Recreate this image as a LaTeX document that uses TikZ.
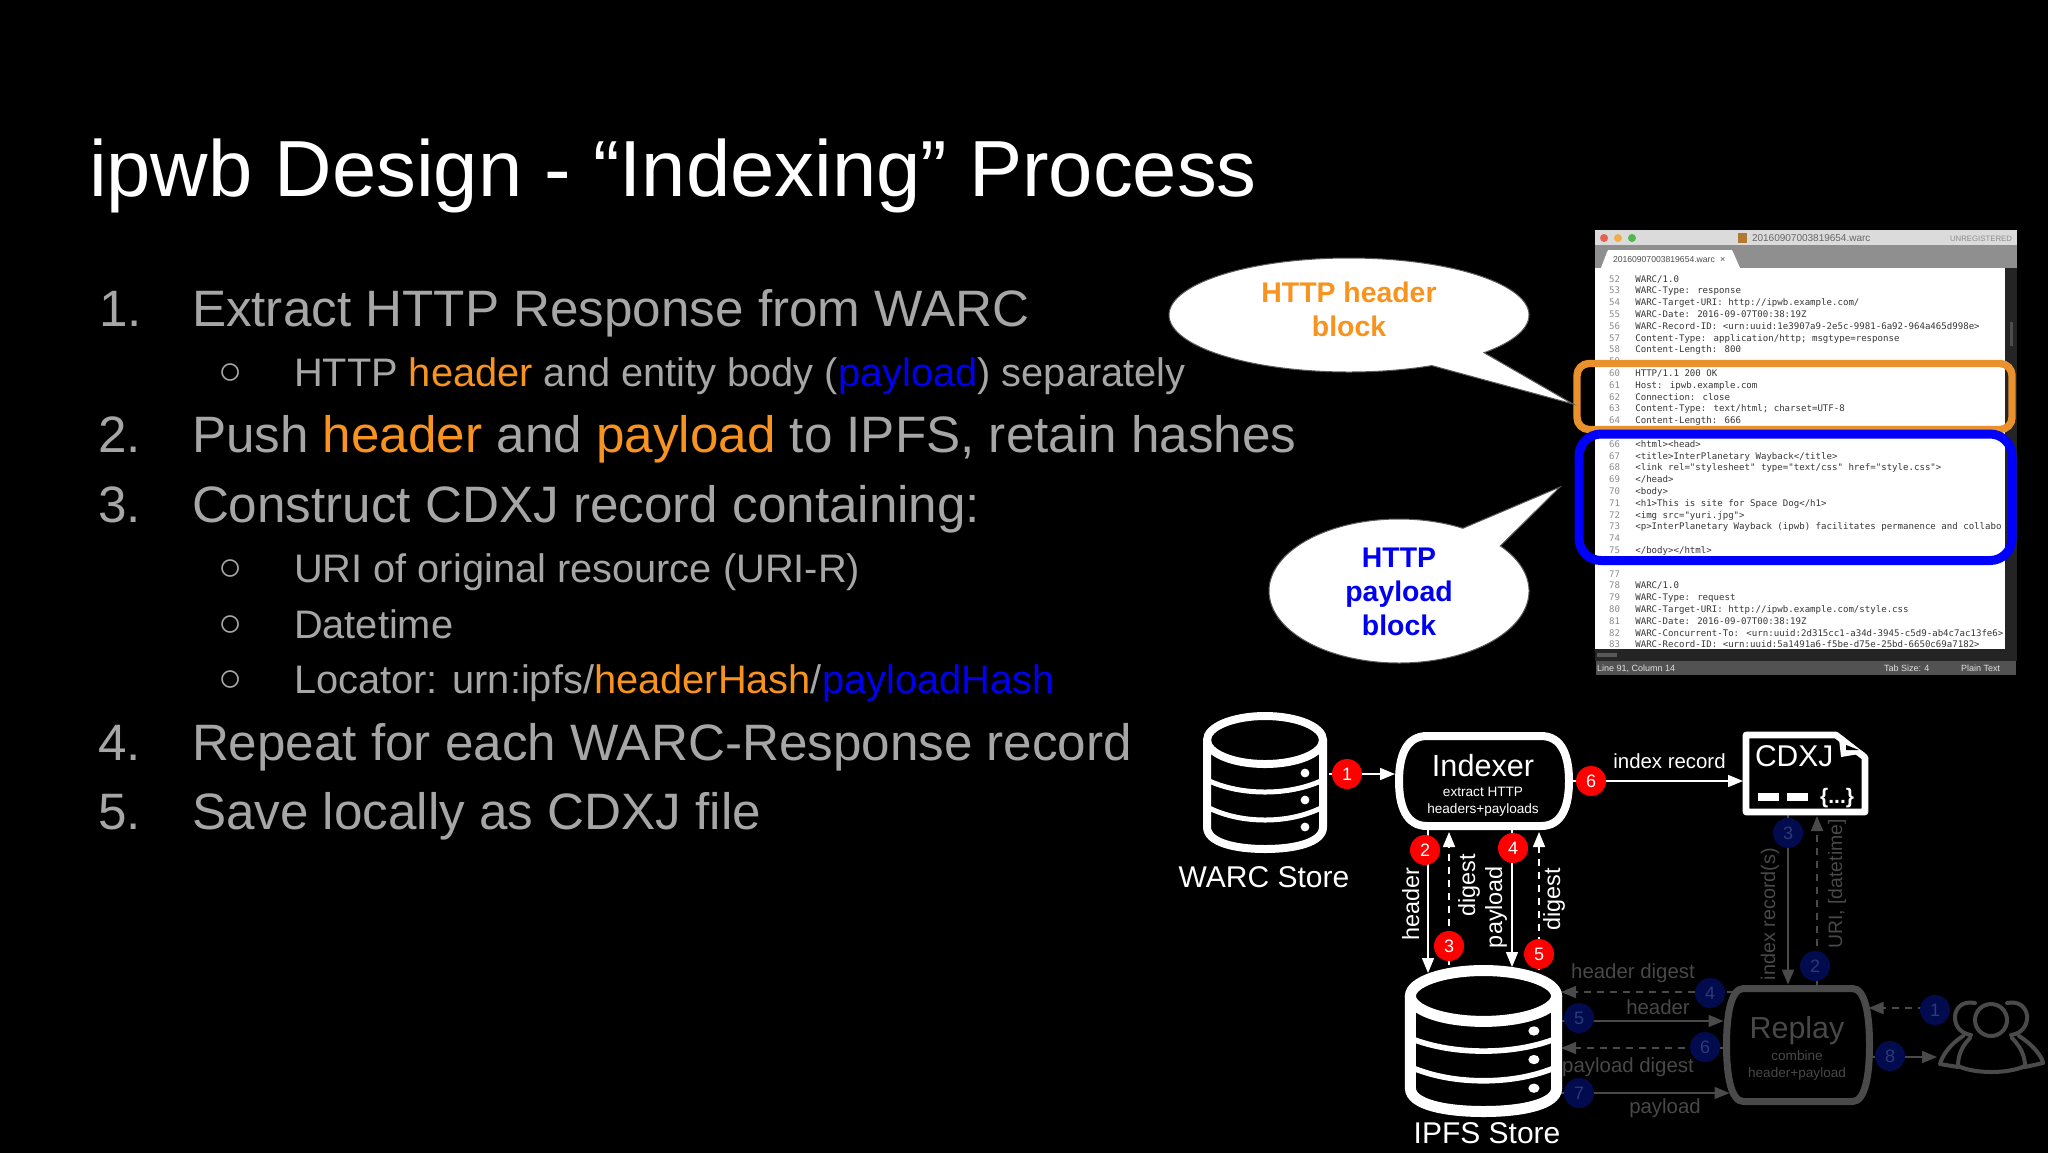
\documentclass[tikz,border=0pt]{standalone}
\usepackage{fontspec}
\setmainfont{Liberation Sans}
\newfontfamily\codefont{DejaVu Sans Mono}
\usetikzlibrary{calc,arrows.meta}

\definecolor{itemgray}{HTML}{A6A6A6}
\definecolor{hlorange}{HTML}{F7931E}
\definecolor{hlblue}{HTML}{0000F0}
\definecolor{boxorange}{HTML}{E8912D}
\definecolor{dimgray}{HTML}{4A4A4A}
\definecolor{dimtext}{HTML}{484848}
\definecolor{navy}{HTML}{020B4E}
\definecolor{navytext}{HTML}{2B3A78}
\definecolor{winred}{HTML}{E8604F}
\definecolor{winyellow}{HTML}{F0AE48}
\definecolor{wingreen}{HTML}{4FB850}
\definecolor{winfile}{HTML}{B07A30}

% fonts, sizes in pt (1 px of the slide is 0.5pt)
\newcommand{\fsz}[1]{\fontsize{#1}{#1}\selectfont}

\tikzset{
  txt/.style={inner sep=0pt,outer sep=0pt},
  title/.style={txt,anchor=base west,text=white,font=\fsz{39.8}},
  item/.style={txt,anchor=base west,text=itemgray,font=\fsz{25.6}},
  sub/.style={txt,anchor=base west,text=itemgray,font=\fsz{19.9}},
  bullet/.style={txt,anchor=center,text=itemgray,font=\fsz{20}},
  codenum/.style={txt,anchor=base east,text=black!45,font=\codefont\fsz{4.54}},
  codetxt/.style={txt,anchor=base west,text=black!78,font=\codefont\fsz{4.54}},
  chrome/.style={txt,anchor=base west,font=\fsz{4.5}},
  bubble/.style={fill=white,draw=black!65,line width=.5pt},
  bubbletxt/.style={txt,align=center,font=\bfseries\fontsize{14.2}{17}\selectfont},
  wlabel/.style={txt,anchor=base,text=white,font=\fsz{#1}},
  dlabel/.style={txt,anchor=base,text=dimtext,font=\fsz{#1}},
  redbadge/.style={circle,fill=red,text=white,inner sep=0pt,minimum size=15pt,font=\fsz{9}},
  navybadge/.style={circle,fill=navy,text=navytext,inner sep=0pt,minimum size=15pt,font=\fsz{9}},
  wire/.style={line width=.8pt,white,-{Triangle[length=7.5pt,width=6pt]}},
  dwire/.style={line width=.8pt,dimgray,-{Triangle[length=7.5pt,width=6pt]}},
  dashes/.style={dash pattern=on 3.5pt off 3pt},
  pics/store/.style 2 args={code={
    \draw[white,line width=#1] (0,-42.5) ellipse [x radius=58,y radius=24];
    \draw[white,line width=#1,line cap=round] (-58,-42.5) -- (-58,44.5)
      .. controls (-58,60) and (-30,66.5) .. (0,66.5)
      .. controls (30,66.5) and (58,60) .. (58,44.5) -- (58,-42.5);
    \foreach \yy/\sag in {-2.5/12,24.5/13}
      \draw[white,line width=#2] (-58,\yy) .. controls (-40,\yy+.7*\sag) and (-20,\yy+\sag) .. (0,\yy+\sag)
        .. controls (20,\yy+\sag) and (40,\yy+.7*\sag) .. (58,\yy);
    \foreach \yy in {-9.5,17.5,44.5}
      \fill[white] (40,\yy) ellipse [x radius=4.4,y radius=4.4];
  }}
}

% barrel outline round a box node: node, flat inset, side pull, style
\newcommand{\barrel}[4]{%
  \draw[#4] ($(#1.north west)+(#2,0)$) -- ($(#1.north east)+(-#2,0)$)
    .. controls ($(#1.north east)+({-.25*#2},0)$) and ($(#1.east)+(0,-#3)$) .. (#1.east)
    .. controls ($(#1.east)+(0,#3)$) and ($(#1.south east)+({-.25*#2},0)$) .. ($(#1.south east)+(-#2,0)$)
    -- ($(#1.south west)+(#2,0)$)
    .. controls ($(#1.south west)+({.25*#2},0)$) and ($(#1.west)+(0,#3)$) .. (#1.west)
    .. controls ($(#1.west)+(0,-#3)$) and ($(#1.north west)+({.25*#2},0)$) .. cycle;}

% one numbered line of the editor window
\newcommand{\wline}[2]{%
  \node[codenum] (num#1) at (1620,{282+11.8*(#1-52)}) {#1};
  \node[codetxt] (txt#1) at (1635.3,{282+11.8*(#1-52)}) {#2};}

\begin{document}
\begin{tikzpicture}[x=.5pt,y=-.5pt]
\useasboundingbox (0,0) rectangle (2048,1152);
\fill[black] (-6,-6) rectangle (2054,1158);

% ---- slide text
\node[title] (head) at (89,196) {ipwb Design - “Indexing” Process};

\node[item] (n1) at (99,326) {1.};
\node[item] (t1) at (192,326) {Extract HTTP Response from WARC};
\node[bullet] (b1) at (231,374.5) {○};
\node[sub] (s1) at (294,386) {HTTP \textcolor{hlorange}{header} and entity body (\textcolor{hlblue}{payload}) separately};
\node[item] (n2) at (98,452) {2.};
\node[item] (t2) at (192,452) {Push \textcolor{hlorange}{header} and \textcolor{hlorange}{payload} to IPFS, retain hashes};
\node[item] (n3) at (98,522) {3.};
\node[item] (t3) at (192,522) {Construct CDXJ record containing:};
\node[bullet] (b2) at (231,570.5) {○};
\node[sub] (s2) at (294,582) {URI of original resource (URI-R)};
\node[bullet] (b3) at (231,626.5) {○};
\node[sub] (s3) at (294,638) {Datetime};
\node[bullet] (b4) at (231,681.5) {○};
\node[sub] (s4) at (294,693) {Locator: urn:ipfs/\textcolor{hlorange}{headerHash}/\textcolor{hlblue}{payloadHash}};
\node[item] (n4) at (98,760) {4.};
\node[item] (t4) at (192,760) {Repeat for each WARC-Response record};
\node[item] (n5) at (98,829) {5.};
\node[item] (t5) at (192,829) {Save locally as CDXJ file};

% ---- editor window
\fill[black!14] (1595,230) rectangle (2017,245);
\fill[black!44] (1595,245) rectangle (2017,268);
\fill[white] (1601,268) -- (1607,252) .. controls (1608,250) .. (1610,250) -- (1730,250)
  .. controls (1732,250) .. (1733,252) -- (1740,268) -- cycle;
\fill[black!86] (1595,268) rectangle (2017,661);
\fill[white] (1595,268) rectangle (2005,649);
\fill[black!70] (2010,322) rectangle (2013,346);
\fill[black!65] (1597,653) rectangle (1617,657);
\fill[black!68] (1596,661) rectangle (2016,675);
\fill[winred] (1604,238) circle (4);
\fill[winyellow] (1618,238) circle (4);
\fill[wingreen] (1632,238) circle (4);
\fill[winfile] (1738,233) rectangle (1747,243);
\node[chrome,text=black!60,font=\fsz{5}] (wtitle) at (1752,241) {20160907003819654.warc};
\node[chrome,text=black!45,font=\fsz{3.9}] (wreg) at (1950,241) {UNREGISTERED};
\node[chrome,text=black!70,font=\fsz{4.3}] (wtab) at (1613,262) {20160907003819654.warc};
\node[chrome,text=black!70] (wclose) at (1720,262) {×};
\node[chrome,text=black!12] (wpos) at (1597,671) {Line 91, Column 14};
\node[chrome,text=black!12] (wsize) at (1884,671) {Tab Size: 4};
\node[chrome,text=black!12] (wkind) at (1961,671) {Plain Text};

\begin{scope}
\clip (1595,268) rectangle (2005,649);
\wline{52}{WARC/1.0}
\wline{53}{WARC-Type: response}
\wline{54}{WARC-Target-URI: http://ipwb.example.com/}
\wline{55}{WARC-Date: 2016-09-07T00:38:19Z}
\wline{56}{WARC-Record-ID: <urn:uuid:1e3907a9-2e5c-9981-6a92-964a465d998e>}
\wline{57}{Content-Type: application/http; msgtype=response}
\wline{58}{Content-Length: 800}
\wline{59}{}
\wline{60}{HTTP/1.1 200 OK}
\wline{61}{Host: ipwb.example.com}
\wline{62}{Connection: close}
\wline{63}{Content-Type: text/html; charset=UTF-8}
\wline{64}{Content-Length: 666}
\wline{66}{<html><head>}
\wline{67}{<title>InterPlanetary Wayback</title>}
\wline{68}{<link rel="stylesheet" type="text/css" href="style.css">}
\wline{69}{</head>}
\wline{70}{<body>}
\wline{71}{<h1>This is site for Space Dog</h1>}
\wline{72}{<img src="yuri.jpg">}
\wline{73}{<p>InterPlanetary Wayback (ipwb) facilitates permanence and collabo}
\wline{74}{}
\wline{75}{</body></html>}
\wline{76}{}
\wline{77}{}
\wline{78}{WARC/1.0}
\wline{79}{WARC-Type: request}
\wline{80}{WARC-Target-URI: http://ipwb.example.com/style.css}
\wline{81}{WARC-Date: 2016-09-07T00:38:19Z}
\wline{82}{WARC-Concurrent-To: <urn:uuid:2d315cc1-a34d-3945-c5d9-ab4c7ac13fe6>}
\wline{83}{WARC-Record-ID: <urn:uuid:5a1491a6-f5be-d75e-25bd-6650c69a7182>}
\end{scope}

\draw[boxorange,line width=3.7pt,rounded corners=6pt] (1577,363.5) rectangle (2012,429.5);
\draw[blue,line width=4.5pt,rounded corners=11pt] (1579,434) rectangle (2012,560.5);

% ---- speech bubbles
\draw[bubble] plot[domain=62.6:401.4,samples=180] ({1349+180*cos(\x)},{315+57*sin(\x)})
  -- (1573,404) -- cycle;
\draw[bubble] plot[domain=-38.8:299.4,samples=180] ({1399+130*cos(\x)},{591+72*sin(\x)})
  -- (1560,487) -- cycle;
\node[bubbletxt,text=hlorange] (bh) at (1349,309) {HTTP header\\block};
\node[bubbletxt,text=hlblue] (bp) at (1399,592) {HTTP\\payload\\block};

% ---- box nodes
\node[txt,minimum width=62pt,minimum height=70.5pt] (warc) at (1265,782.5) {};
\node[txt,minimum width=78.5pt,minimum height=76pt] (ipfs) at (1483.5,1041) {};
\node[txt,minimum width=85pt,minimum height=45pt] (indexer) at (1484,781) {};
\node[txt,minimum width=71.5pt,minimum height=56.5pt] (replay) at (1798,1045) {};
\node[txt,minimum width=59.5pt,minimum height=38.5pt] (cdxj) at (1805.5,773.5) {};
\node[txt,minimum width=53.5pt,minimum height=38pt] (users) at (1991.5,1035) {};

% ---- dimmed replay half
\draw[dwire] ($(cdxj.south)+(-17.5,3)$) -- ($(replay.north)+(-10,-4)$);
\draw[dwire,dashes] ($(replay.north)+(19,-4)$) -- ($(cdxj.south)+(11.5,4)$);
\draw[dwire,dashes] ($(replay.west)+(7,-53)$) -- ($(ipfs.east)+(-1,-49)$);
\draw[dwire] ($(ipfs.east)+(-1,-20)$) -- ($(replay.west)+(-3,-24)$);
\draw[dwire,dashes] ($(replay.west)+(-3,3)$) -- ($(ipfs.east)+(-1,7)$);
\draw[dwire] ($(ipfs.east)+(-1,52)$) -- ($(replay.west)+(3,48)$);
\draw[dwire,dashes] ($(users.west)+(0,-27)$) -- ($(replay.east)+(-1,-37)$);
\draw[dwire] ($(replay.east)+(3,12)$) -- ($(users.west)+(-1,22)$);

\node[dlabel=9.9,rotate=90] (lidx) at (1775,914) {index record(s)};
\node[dlabel=9.7,rotate=90] (luri) at (1842,884) {URI, [datetime]};
\node[dlabel=10.2] (lhd) at (1633,978) {header digest};
\node[dlabel=10.2] (lh) at (1658,1014) {header};
\node[dlabel=10.2] (lpd) at (1628,1072) {payload digest};
\node[dlabel=10.2] (lp) at (1665,1113) {payload};

\barrel{replay}{17}{30}{dimgray,line width=3.5pt}
\node[dlabel=15.2] (replayt) at (1797,1038) {Replay};
\node[dlabel=6.8] (replays1) at (1797,1060) {combine};
\node[dlabel=6.8] (replays2) at (1797,1077) {header+payload};

% users icon
\begin{scope}[dimgray,line width=2pt,line join=round,line cap=round]
\draw (1991,1020) circle (16);
\draw (1970,1038) .. controls (1960,1048) and (1958,1058) .. (1958,1066)
  .. controls (1975,1074) and (2008,1074) .. (2025,1066)
  .. controls (2025,1058) and (2022,1048) .. (2012,1038);
\draw (1975,1003) .. controls (1950,998) and (1948,1032) .. (1971,1035);
\draw (2007,1003) .. controls (2032,998) and (2034,1032) .. (2011,1035);
\draw (1963,1036) .. controls (1950,1044) and (1942,1056) .. (1940,1064) -- (1958,1067);
\draw (2019,1036) .. controls (2032,1044) and (2042,1056) .. (2043,1063) -- (2025,1067);
\end{scope}

\node[navybadge] (d3) at (1788,833) {3};
\node[navybadge] (d2) at (1815,966) {2};
\node[navybadge] (d4) at (1710,993) {4};
\node[navybadge] (d5) at (1579,1018) {5};
\node[navybadge] (d6) at (1705,1047) {6};
\node[navybadge] (d7) at (1579,1093) {7};
\node[navybadge] (d1) at (1935,1010) {1};
\node[navybadge] (d8) at (1890,1056) {8};

% ---- bright indexing half
\pic at (warc.center) {store={4pt}{2.5pt}};
\pic[xscale=1.26,yscale=1.06] at (ipfs.center) {store={5.5pt}{2.8pt}};
\barrel{indexer}{28}{25}{white,line width=4pt}

\node[wlabel=15] (warct) at (1264,887) {WARC Store};
\node[wlabel=15] (ipfst) at (1487,1143) {IPFS Store};
\node[wlabel=15.3] (idxt) at (1483,776) {Indexer};
\node[wlabel=6.8] (idxs1) at (1483,796) {extract HTTP};
\node[wlabel=6.8] (idxs2) at (1483,813) {headers+payloads};

% cdxj file
\draw[white,line width=3.3pt,line join=round]
  (cdxj.north west) -- ($(cdxj.north east)+(-29,0)$) -- ($(cdxj.east)+(0,-16)$)
  -- (cdxj.south east) -- (cdxj.south west) -- cycle;
\fill[white] ($(cdxj.north east)+(-29,0)$) -- ($(cdxj.north east)+(0,18)$)
  -- ($(cdxj.north east)+(-24,22)$) -- ($(cdxj.north east)+(-26,4)$) -- cycle;
\fill[black] ($(cdxj.north east)+(-19,10)$) -- ($(cdxj.north east)+(-6,15)$)
  -- ($(cdxj.north east)+(-19,15)$) -- cycle;
\node[txt,anchor=base west,text=white,font=\fsz{15}] (cdxjt) at (1755,766) {CDXJ};
\fill[white] (1758,793) rectangle (1779,801);
\fill[white] (1787,793) rectangle (1808,801);
\node[txt,anchor=base east,text=white,font=\bfseries\fsz{10.5}] (cdxjb) at (1854,803) {\{...\}};

\draw[wire] ($(warc.east)+(2,-8.5)$) -- ($(indexer.west)+(-4,-7)$);
\draw[wire] ($(indexer.south)+(-56,4)$) -- ($(ipfs.north)+(-55.5,8)$);
\draw[wire,dashes] ($(ipfs.north)+(-34.5,0)$) -- ($(indexer.south)+(-35,6)$);
\draw[wire] ($(indexer.south)+(28,4)$) -- ($(ipfs.north)+(28.5,2)$);
\draw[wire,dashes] ($(ipfs.north)+(55.5,5)$) -- ($(indexer.south)+(55,6)$);
\draw[wire] ($(indexer.east)+(4,0)$) -- ($(cdxj.west)+(-3,7.5)$);

\node[wlabel=11.7,rotate=90] (lhead) at (1419,904) {header};
\node[wlabel=11.7,rotate=90] (ldig1) at (1475,885) {digest};
\node[wlabel=11.7,rotate=90] (lpay) at (1502,907) {payload};
\node[wlabel=11.7,rotate=90] (ldig2) at (1560,899) {digest};
\node[wlabel=10.2] (lrec) at (1669.5,768) {index record};

\node[redbadge] (r1) at (1347,774) {1};
\node[redbadge] (r2) at (1425,850) {2};
\node[redbadge] (r3) at (1449,946) {3};
\node[redbadge] (r4) at (1513,848) {4};
\node[redbadge] (r5) at (1539,954) {5};
\node[redbadge] (r6) at (1591,781) {6};
\end{tikzpicture}
\end{document}
